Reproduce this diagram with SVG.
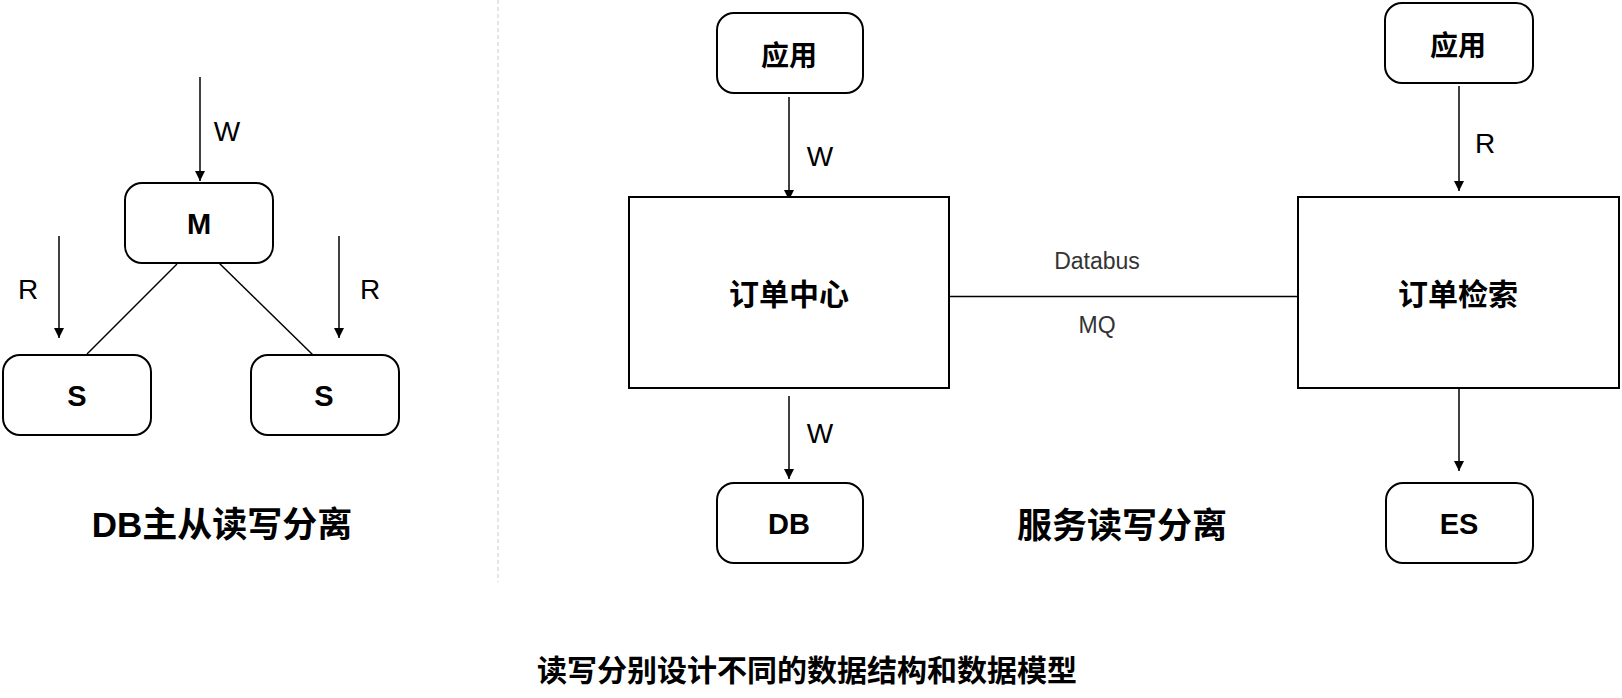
<svg xmlns="http://www.w3.org/2000/svg" width="1622" height="698" viewBox="0 0 1622 698">
<style>
.box{fill:#fff;stroke:#000;stroke-width:2}
.ln{fill:none;stroke:#000;stroke-width:1.5}
.arr{fill:none;stroke:#000;stroke-width:1.5;marker-end:url(#ah)}
.lat{font-family:"Liberation Sans",Arial,sans-serif;font-size:28px;fill:#000;text-anchor:middle}
.nl{font-family:"Liberation Sans",Arial,sans-serif;font-size:29px;font-weight:bold;fill:#000;text-anchor:middle}
.cjk{font-family:"Noto Sans CJK SC","Liberation Sans",sans-serif;font-weight:bold;fill:#000;text-anchor:middle;dominant-baseline:central}
.small{font-family:"Liberation Sans",Arial,sans-serif;font-size:23px;fill:#333;text-anchor:middle}
</style>
<defs>
<marker id="ah" viewBox="0 0 10 10" refX="10" refY="5" markerWidth="10" markerHeight="10" markerUnits="userSpaceOnUse" orient="auto">
<path d="M0,0 L10,5 L0,10 z" fill="#000"/>
</marker>
</defs>
<rect width="1622" height="698" fill="#fff"/>
<line x1="498" y1="0" x2="498" y2="582" stroke="#ccc" stroke-width="1" stroke-dasharray="4,3"/>

<g id="connectors">
<line class="arr" x1="200" y1="77" x2="200" y2="181"/>
<line class="arr" x1="59" y1="236" x2="59" y2="338"/>
<line class="arr" x1="339" y1="236" x2="339" y2="338"/>
<line class="ln" x1="177" y1="264" x2="87" y2="354"/>
<line class="ln" x1="218" y1="262" x2="313" y2="355"/>
<line class="arr" x1="789" y1="97" x2="789" y2="200"/>
<line class="arr" x1="1459" y1="86" x2="1459" y2="191"/>
<line class="arr" x1="789" y1="396" x2="789" y2="479"/>
<line class="arr" x1="1459" y1="388" x2="1459" y2="471"/>
<line class="ln" stroke-width="2" x1="949" y1="296.5" x2="1298" y2="296.5"/>
<text class="lat" x="227" y="141">W</text>
<text class="lat" x="28" y="299">R</text>
<text class="lat" x="370" y="299">R</text>
<text class="lat" x="820" y="166">W</text>
<text class="lat" x="1485" y="153">R</text>
<text class="lat" x="820" y="443">W</text>
<text class="small" x="1097" y="269">Databus</text>
<text class="small" x="1097" y="333">MQ</text>
</g>

<g id="node-m">
<rect class="box" x="125" y="183" width="148" height="80" rx="17"/>
<text class="nl" x="199" y="234">M</text>
</g>
<g id="node-s1">
<rect class="box" x="3" y="355" width="148" height="80" rx="17"/>
<text class="nl" x="77" y="406">S</text>
</g>
<g id="node-s2">
<rect class="box" x="251" y="355" width="148" height="80" rx="17"/>
<text class="nl" x="324" y="406">S</text>
</g>
<g id="node-app1">
<rect class="box" x="717" y="13" width="146" height="80" rx="17"/>
<text class="cjk" font-size="28" x="789" y="54">应用</text>
</g>
<g id="node-order-center">
<rect class="box" x="629" y="197" width="320" height="191"/>
<text class="cjk" font-size="30" x="789" y="292">订单中心</text>
</g>
<g id="node-db">
<rect class="box" x="717" y="483" width="146" height="80" rx="17"/>
<text class="nl" x="789" y="534">DB</text>
</g>
<g id="node-app2">
<rect class="box" x="1385" y="3" width="148" height="80" rx="17"/>
<text class="cjk" font-size="28" x="1458" y="44">应用</text>
</g>
<g id="node-order-search">
<rect class="box" x="1298" y="197" width="321" height="191"/>
<text class="cjk" font-size="30" x="1458" y="292">订单检索</text>
</g>
<g id="node-es">
<rect class="box" x="1386" y="483" width="147" height="80" rx="17"/>
<text class="nl" x="1459" y="534">ES</text>
</g>

<g id="titles">
<text x="222" y="537" font-family="Liberation Sans, Noto Sans CJK SC, sans-serif" font-size="35" font-weight="bold" text-anchor="middle">DB主从读写分离</text>
<text class="cjk" font-size="35" x="1122" y="522">服务读写分离</text>
<text class="cjk" font-size="30" x="807" y="668">读写分别设计不同的数据结构和数据模型</text>
</g>
</svg>
